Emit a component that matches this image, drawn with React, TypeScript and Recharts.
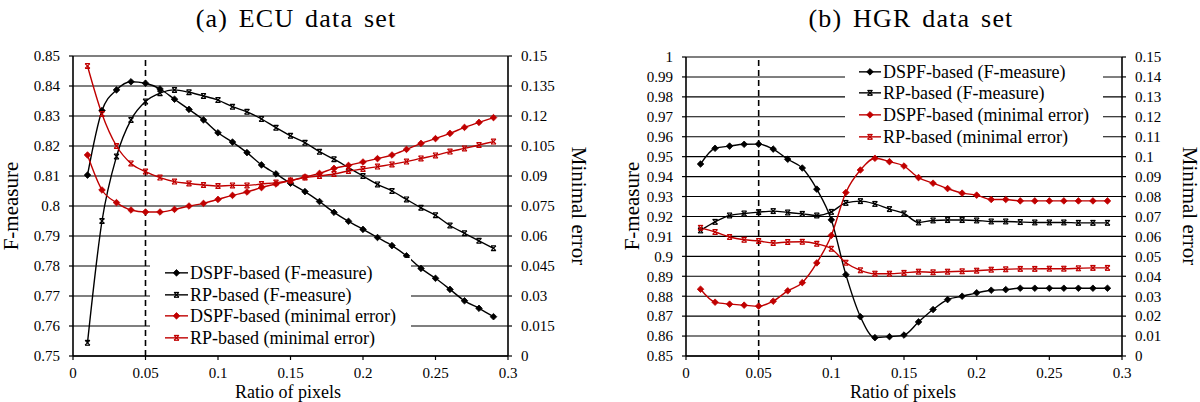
import React from 'react';
import { ComposedChart, Line, XAxis, YAxis, CartesianGrid, ReferenceLine, Legend } from 'recharts';

const RATIO = [0.01,0.02,0.03,0.04,0.05,0.06,0.07,0.08,0.09,0.1,0.11,0.12,0.13,0.14,0.15,0.16,0.17,0.18,0.19,0.2,0.21,0.22,0.23,0.24,0.25,0.26,0.27,0.28,0.29];
const X_TICKS = [0, 0.05, 0.1, 0.15, 0.2, 0.25, 0.3];

const ECU_DSPF_F = [0.8103,0.8318,0.8387,0.8414,0.8409,0.839,0.8356,0.8322,0.8287,0.8244,0.8213,0.8178,0.8137,0.8107,0.8076,0.8048,0.8015,0.7979,0.7949,0.7922,0.7895,0.7868,0.7834,0.7792,0.7759,0.7722,0.7684,0.7659,0.7631];
const ECU_RP_F = [0.7544,0.795,0.8165,0.8287,0.8348,0.8376,0.8387,0.8379,0.8367,0.8353,0.8331,0.8314,0.829,0.8261,0.8234,0.8211,0.8181,0.8156,0.8128,0.81,0.8072,0.805,0.8022,0.7994,0.7969,0.7935,0.7909,0.7884,0.7859];
const ECU_DSPF_E = [0.1005,0.083,0.0767,0.073,0.072,0.072,0.0733,0.075,0.0763,0.0783,0.0803,0.082,0.0842,0.086,0.0877,0.0895,0.0913,0.0938,0.0953,0.097,0.0987,0.1005,0.1033,0.1063,0.1087,0.1113,0.1143,0.1168,0.1192];
const ECU_RP_E = [0.145,0.121,0.105,0.0963,0.0922,0.0892,0.0872,0.0863,0.0855,0.085,0.0853,0.0853,0.086,0.0867,0.0877,0.0892,0.09,0.091,0.0925,0.0935,0.0947,0.0958,0.0972,0.0988,0.1003,0.1022,0.1038,0.1055,0.1072];

const HGR_DSPF_F = [0.9463,0.9542,0.9553,0.9562,0.9563,0.9538,0.9487,0.9443,0.9337,0.9183,0.8908,0.8697,0.8592,0.8597,0.8605,0.8671,0.8733,0.8783,0.88,0.8817,0.883,0.8833,0.884,0.884,0.884,0.884,0.884,0.884,0.884];
const HGR_RP_F = [0.913,0.9173,0.9205,0.9215,0.9222,0.9227,0.922,0.9213,0.9205,0.9223,0.9268,0.9277,0.9263,0.9237,0.9215,0.917,0.918,0.9182,0.9182,0.918,0.9175,0.9175,0.9172,0.917,0.917,0.917,0.9168,0.9168,0.9168];
const HGR_DSPF_E = [0.0335,0.027,0.026,0.0255,0.025,0.0275,0.0327,0.0368,0.0467,0.0605,0.082,0.0933,0.0992,0.0975,0.0953,0.0895,0.0867,0.084,0.0817,0.0807,0.0785,0.0785,0.0778,0.0778,0.0778,0.0778,0.0778,0.0778,0.0778];
const HGR_RP_E = [0.0643,0.0622,0.0597,0.0583,0.0577,0.0567,0.0572,0.0573,0.0563,0.0538,0.0468,0.043,0.0413,0.0413,0.0417,0.0423,0.042,0.0423,0.0425,0.0428,0.0433,0.0435,0.0437,0.0437,0.0438,0.0438,0.044,0.0442,0.0442];

const ECU_F_TICKS = [0.75,0.76,0.77,0.78,0.79,0.8,0.81,0.82,0.83,0.84,0.85];
const ECU_E_TICKS = [0,0.015,0.03,0.045,0.06,0.075,0.09,0.105,0.12,0.135,0.15];
const HGR_F_TICKS = [0.85,0.86,0.87,0.88,0.89,0.9,0.91,0.92,0.93,0.94,0.95,0.96,0.97,0.98,0.99,1];
const HGR_E_TICKS = [0,0.01,0.02,0.03,0.04,0.05,0.06,0.07,0.08,0.09,0.1,0.11,0.12,0.13,0.14,0.15];

const SERIES_NAMES = ['DSPF-based (F-measure)', 'RP-based (F-measure)', 'DSPF-based (minimal error)', 'RP-based (minimal error)'];
const SERIES_KINDS = ['diamond', 'star', 'diamond', 'star'];
const SERIES_COLORS = ['#000000', '#000000', '#c00000', '#c00000'];
const SERIES_AXES = ['f', 'f', 'e', 'e'];
const SERIES_KEYS = ['dspfF', 'rpF', 'dspfE', 'rpE'];

const FONT = "'Liberation Serif', 'DejaVu Serif', 'Noto Serif', Tinos, 'Times New Roman', Times, 'Nimbus Roman', FreeSerif, Georgia, serif";

function buildRows(a: number[], b: number[], c: number[], d: number[]) {
  return RATIO.map((x, i) => ({ x, dspfF: a[i], rpF: b[i], dspfE: c[i], rpE: d[i] }));
}
const ECU_ROWS = buildRows(ECU_DSPF_F, ECU_RP_F, ECU_DSPF_E, ECU_RP_E);
const HGR_ROWS = buildRows(HGR_DSPF_F, HGR_RP_F, HGR_DSPF_E, HGR_RP_E);

function Marker({ kind, cx, cy, color }: { kind: string; cx: number; cy: number; color: string }) {
  if (kind === 'diamond') {
    const r = 3.3;
    return <path d={`M${cx},${cy - r}L${cx + r},${cy}L${cx},${cy + r}L${cx - r},${cy}Z`} fill={color} stroke={color} strokeWidth={0.8} />;
  }
  const r = 2.4;
  return (
    <g stroke={color} strokeWidth={1.2}>
      <line x1={cx - r} y1={cy - r} x2={cx + r} y2={cy + r} />
      <line x1={cx - r} y1={cy + r} x2={cx + r} y2={cy - r} />
      <line x1={cx - r} y1={cy - r} x2={cx + r} y2={cy - r} />
      <line x1={cx - r} y1={cy + r} x2={cx + r} y2={cy + r} />
    </g>
  );
}

function makeDot(kind: string, color: string) {
  return (props: any) => {
    const { cx, cy, index } = props;
    if (cx == null || cy == null) return <g key={`d${index}`} />;
    return (
      <g key={`d${index}`}>
        <Marker kind={kind} cx={cx} cy={cy} color={color} />
      </g>
    );
  };
}

function LegendBox({ sampleLeft, sampleWidth, rowHeight, padTop, fontSize }: any) {
  return (
    <div style={{ background: '#fff', width: '100%', height: '100%', paddingTop: padTop, boxSizing: 'border-box' }}>
      {SERIES_NAMES.map((name, i) => (
        <div key={name} style={{ display: 'flex', alignItems: 'center', height: rowHeight, whiteSpace: 'nowrap' }}>
          <svg width={sampleLeft + sampleWidth + 2} height={rowHeight} style={{ display: 'block', flex: 'none' }}>
            <line x1={sampleLeft} x2={sampleLeft + sampleWidth} y1={rowHeight / 2} y2={rowHeight / 2} stroke={SERIES_COLORS[i]} strokeWidth={1.4} />
            <Marker kind={SERIES_KINDS[i]} cx={sampleLeft + sampleWidth / 2} cy={rowHeight / 2} color={SERIES_COLORS[i]} />
          </svg>
          <span style={{ fontFamily: FONT, fontSize, color: '#000', lineHeight: 1 }}>{name}</span>
        </div>
      ))}
    </div>
  );
}

const tickStyle = { fill: '#000', fontSize: 15, fontFamily: FONT };

function Panel(props: any) {
  const { rows, fTicks, eTicks, fDomain, eDomain, leftW, rightW, top, legendStyle, legendProps } = props;
  return (
    <ComposedChart width={600} height={402} data={rows} margin={{ top, right: 0, bottom: 0, left: 0 }}>
      <CartesianGrid yAxisId="f" horizontal={true} vertical={false} stroke="#000" strokeWidth={1.1} />
      <XAxis dataKey="x" type="number" domain={[0, 0.3]} ticks={X_TICKS} height={46} tick={tickStyle}
        tickSize={4} tickMargin={7} axisLine={{ stroke: '#000', strokeWidth: 1.6 }} tickLine={{ stroke: '#000', strokeWidth: 1.2 }} interval={0} />
      <YAxis yAxisId="f" orientation="left" type="number" domain={fDomain} ticks={fTicks} width={leftW} tick={tickStyle}
        tickSize={4} tickMargin={9} axisLine={{ stroke: '#000', strokeWidth: 1.6 }} tickLine={{ stroke: '#000', strokeWidth: 1.2 }} interval={0} allowDataOverflow />
      <YAxis yAxisId="e" orientation="right" type="number" domain={eDomain} ticks={eTicks} width={rightW} tick={tickStyle}
        tickSize={4} tickMargin={9} axisLine={{ stroke: '#000', strokeWidth: 1.6 }} tickLine={{ stroke: '#000', strokeWidth: 1.2 }} interval={0} allowDataOverflow />
      <ReferenceLine yAxisId="f" x={0.05} stroke="#000" strokeWidth={1.6} strokeDasharray="6 4" />
      {SERIES_KEYS.map((k, i) => (
        <Line key={k} yAxisId={SERIES_AXES[i]} dataKey={k} name={SERIES_NAMES[i]} type="monotone"
          stroke={SERIES_COLORS[i]} strokeWidth={1.4} dot={makeDot(SERIES_KINDS[i], SERIES_COLORS[i])}
          activeDot={false} isAnimationActive={false} />
      ))}
      <Legend layout="vertical" align="center" verticalAlign="middle" wrapperStyle={legendStyle}
        content={() => <LegendBox {...legendProps} />} />
    </ComposedChart>
  );
}

function Text({ x, y, children, size, rotate }: any) {
  return (
    <div style={{ position: 'absolute', left: x, top: y, transform: `translate(-50%, -50%)${rotate ? ` rotate(${rotate}deg)` : ''}`,
      fontFamily: FONT, fontSize: size, color: '#000', whiteSpace: 'nowrap', lineHeight: 1 }}>
      {children}
    </div>
  );
}

export default function App() {
  return (
    <div style={{ position: 'absolute', left: 0, top: 0, width: 1200, height: 402, background: '#fff', overflow: 'hidden' }}>
      <div style={{ position: 'absolute', left: 0, top: 0 }}>
        <Panel rows={ECU_ROWS} fTicks={ECU_F_TICKS} eTicks={ECU_E_TICKS} fDomain={[0.75, 0.85]} eDomain={[0, 0.15]}
          leftW={73} rightW={92} top={56}
          legendStyle={{ position: 'absolute', left: 150, top: 258, width: 261, height: 92 }}
          legendProps={{ sampleLeft: 15, sampleWidth: 23, rowHeight: 21.7, padTop: 4, fontSize: 18 }} />
      </div>
      <div style={{ position: 'absolute', left: 600, top: 0 }}>
        <Panel rows={HGR_ROWS} fTicks={HGR_F_TICKS} eTicks={HGR_E_TICKS} fDomain={[0.85, 1]} eDomain={[0, 0.15]}
          leftW={86} rightW={78} top={57}
          legendStyle={{ position: 'absolute', left: 245, top: 60, width: 258, height: 86 }}
          legendProps={{ sampleLeft: 14, sampleWidth: 22, rowHeight: 21.7, padTop: 0.8, fontSize: 18 }} />
      </div>
      <Text x={296} y={19} size={26}><span style={{ letterSpacing: 1.2, wordSpacing: 3 }}>(a) ECU data set</span></Text>
      <Text x={911} y={19} size={26}><span style={{ letterSpacing: 1.2, wordSpacing: 3 }}>(b) HGR data set</span></Text>
      <Text x={288} y={392} size={18}>Ratio of pixels</Text>
      <Text x={903} y={392} size={18}>Ratio of pixels</Text>
      <Text x={11} y={206} size={21} rotate={-90}>F-measure</Text>
      <Text x={632} y={206} size={21} rotate={-90}>F-measure</Text>
      <Text x={578} y={206} size={21} rotate={90}>Minimal error</Text>
      <Text x={1189} y={206} size={21} rotate={90}>Minimal error</Text>
    </div>
  );
}
